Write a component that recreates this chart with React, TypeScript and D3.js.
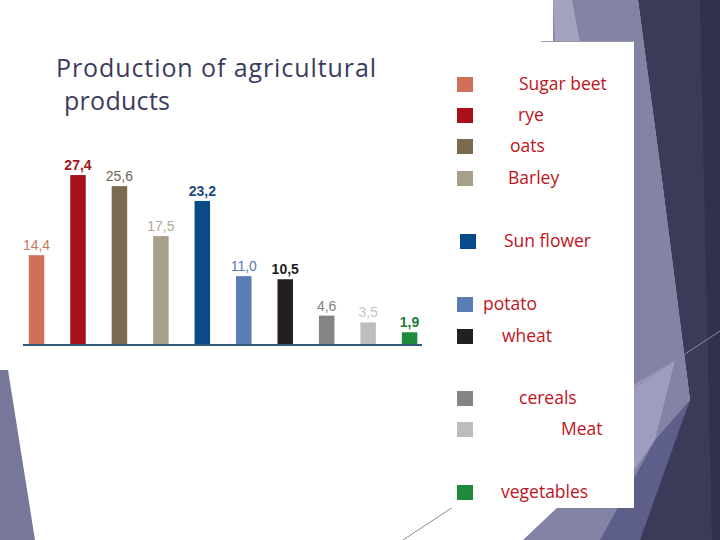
import React from "react";
import * as d3 from "d3";

const categories = ["Sugar beet", "rye", "oats", "Barley", "Sun flower", "potato", "wheat", "cereals", "Meat", "vegetables"];
const values = [14.4, 27.4, 25.6, 17.5, 23.2, 11.0, 10.5, 4.6, 3.5, 1.9];
const valueLabels = ["14,4", "27,4", "25,6", "17,5", "23,2", "11,0", "10,5", "4,6", "3,5", "1,9"];
const barColors = ["#d0705a", "#a8111a", "#7a6a4f", "#a89f8a", "#0b4a8a", "#5b7db5", "#231f20", "#848486", "#bdbdbf", "#1e8a3c"];
const labelColors = ["#c8785f", "#a01820", "#6e6450", "#b0a898", "#1a4a80", "#5a7ab0", "#1e1e1e", "#808080", "#c4c4c4", "#1e7a35"];
const labelBold = [false, true, false, false, true, false, true, false, false, true];
const legendY = [77, 108, 139, 171, 234, 297, 329, 391, 422, 485];
const legendTextX = [519, 518, 510, 508, 504, 483, 502, 519, 561, 501];
const legendSquareX = [457, 457, 457, 457, 460, 457, 457, 457, 457, 457];

export default function App() {
  const x = d3.scaleBand<string>().domain(categories).range([15.8, 430.3]).paddingInner(0.626).paddingOuter(0.313);
  const y = d3.scaleLinear().domain([0, 30]).range([344, 159]);
  const line = d3.line();

  const poly = (pts: [number, number][]) => line(pts) + "Z";

  return (
    <svg width={720} height={540} style={{ position: "fixed", left: 0, top: 0 }} xmlns="http://www.w3.org/2000/svg">
      <rect x={0} y={0} width={720} height={540} fill="#ffffff" />
      {/* background facets */}
      <path d={poly([[0, 370], [8, 370], [35, 540], [0, 540]])} fill="#77779a" />
      <path d={poly([[553, 0], [638, 0], [662, 180], [690, 400], [640, 540], [523, 540], [560, 505], [553, 42]])} fill="#8383a5" />
      <path d={poly([[553, 0], [572, 0], [580, 42], [555, 42]])} fill="#a3a3c0" />
      <path d={poly([[634, 385], [675, 360], [655, 440], [634, 470]])} fill="#9d9dbf" />
      <path d={poly([[600, 540], [655, 440], [690, 400], [650, 540]])} fill="#5e5e8a" />
      <path d={poly([[638, 0], [720, 0], [720, 540], [640, 540], [690, 400], [662, 180]])} fill="#3b3b59" />
      <path d={poly([[700, 0], [720, 0], [720, 540], [712, 540]])} fill="#31314d" />
      <line x1={403} y1={540} x2={720} y2={331} stroke="#8a8aa2" strokeWidth={1} />

      {/* title */}
      <text x={56} y={77} fontFamily="'Open Sans', Lato, sans-serif" fontSize={25} fill="#3b3b5e" textLength={320} lengthAdjust="spacing">Production of agricultural</text>
      <text x={64} y={110} fontFamily="'Open Sans', Lato, sans-serif" fontSize={25} fill="#3b3b5e" textLength={106} lengthAdjust="spacing">products</text>

      {/* bars */}
      {categories.map((c, i) => (
        <rect key={c} x={x(c)} y={y(values[i])} width={x.bandwidth()} height={y(0) - y(values[i])} fill={barColors[i]} />
      ))}
      {categories.map((c, i) => (
        <text key={c + "l"} x={(x(c) as number) + x.bandwidth() / 2} y={y(values[i]) - 5} textAnchor="middle"
          fontFamily="'Liberation Sans', Arial, sans-serif" fontSize={14} fontWeight={labelBold[i] ? "bold" : "normal"} fill={labelColors[i]}>
          {valueLabels[i]}
        </text>
      ))}
      <line x1={23} x2={422} y1={y(0) + 1} y2={y(0) + 1} stroke="#2f5878" strokeWidth={2} />

      {/* legend box */}
      <rect x={440} y={42} width={194} height={466} fill="#ffffff" />
      <line x1={541} x2={634} y1={41.5} y2={41.5} stroke="#9a9aa8" strokeWidth={1} />
      {categories.map((c, i) => (
        <g key={c + "g"}>
          <rect x={legendSquareX[i]} y={legendY[i]} width={16} height={15} fill={barColors[i]} />
          <text x={legendTextX[i]} y={legendY[i] + 13} fontFamily="'Open Sans', sans-serif" fontSize={17.5} fill="#c0141c">{c}</text>
        </g>
      ))}
    </svg>
  );
}
